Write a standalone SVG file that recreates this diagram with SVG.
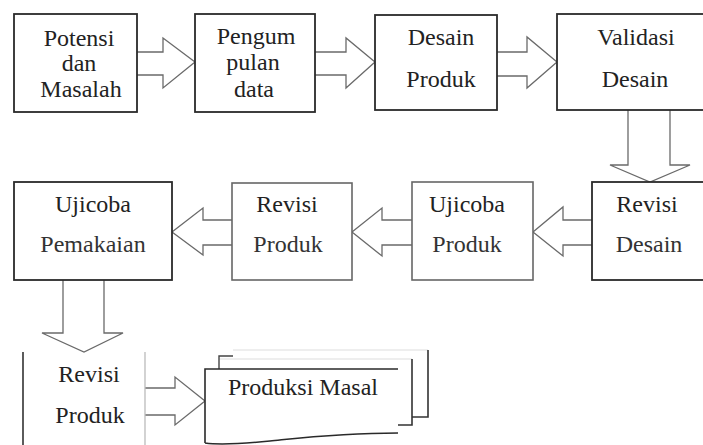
<svg xmlns="http://www.w3.org/2000/svg" width="703" height="445" viewBox="0 0 703 445">
  <defs>
    <!-- shared shapes reused across the chart -->
    <path id="pageEdge" d="M0,0 V0"/>
  </defs>
  <rect width="703" height="445" fill="#fff"/>

  <!-- block arrows -->
  <g id="connectors" fill="#fff" stroke="#6a6a6a" stroke-width="1.3">
    <path d="M137,52 H163 V38 L195,62 L163,88 V75 H137"/>
    <path d="M315,52 H346 V38 L375,62 L346,88 V75 H315"/>
    <path d="M497,52 H527 V37 L557,62 L527,88 V76 H497"/>
    <path d="M628,110 V165 H610 L650,182 L690,165 H670 V110"/>
    <path d="M592,220 H563 V207 L533,232 L563,256 V245 H592"/>
    <path d="M412,220 H382 V208 L352,232 L382,256 V245 H412"/>
    <path d="M232,220 H203 V208 L172,232 L203,255 V245 H232"/>
    <path d="M63,280 V333 H42 L84,352 L123,333 H104 V280"/>
    <path d="M145,388 H175 V377 L205,401 L175,425 V415 H145"/>
  </g>

  <g id="potensi">
    <rect x="14" y="14" width="123" height="98" fill="#fff" stroke="#2a2a2a" stroke-width="1.8"/>
    <text x="79" y="46" font-family="Liberation Serif" font-size="24" fill="#222" text-anchor="middle">Potensi</text>
    <text x="79" y="71" font-family="Liberation Serif" font-size="24" fill="#222" text-anchor="middle">dan</text>
    <text x="81" y="97" font-family="Liberation Serif" font-size="24" fill="#222" text-anchor="middle">Masalah</text>
  </g>

  <g id="pengumpulan">
    <rect x="195" y="14" width="120" height="98" fill="#fff" stroke="#2a2a2a" stroke-width="1.8"/>
    <text x="256" y="44" font-family="Liberation Serif" font-size="24" fill="#222" text-anchor="middle">Pengum</text>
    <text x="253" y="70" font-family="Liberation Serif" font-size="24" fill="#222" text-anchor="middle">pulan</text>
    <text x="254" y="97" font-family="Liberation Serif" font-size="24" fill="#222" text-anchor="middle">data</text>
  </g>

  <g id="desain-produk">
    <rect x="375" y="15" width="122" height="95" fill="#fff" stroke="#2a2a2a" stroke-width="1.8"/>
    <text x="441" y="45" font-family="Liberation Serif" font-size="24" fill="#222" text-anchor="middle">Desain</text>
    <text x="441" y="87" font-family="Liberation Serif" font-size="24" fill="#222" text-anchor="middle">Produk</text>
  </g>

  <g id="validasi-desain">
    <rect x="557" y="14" width="158" height="96" fill="#fff" stroke="#2a2a2a" stroke-width="1.8"/>
    <text x="636" y="45" font-family="Liberation Serif" font-size="24" fill="#222" text-anchor="middle">Validasi</text>
    <text x="635" y="87" font-family="Liberation Serif" font-size="24" fill="#222" text-anchor="middle">Desain</text>
  </g>

  <g id="revisi-desain">
    <rect x="592" y="182" width="120" height="98" fill="#fff" stroke="#2a2a2a" stroke-width="1.8"/>
    <text x="647" y="212" font-family="Liberation Serif" font-size="24" fill="#222" text-anchor="middle">Revisi</text>
    <text x="649" y="252" font-family="Liberation Serif" font-size="24" fill="#333" text-anchor="middle">Desain</text>
  </g>

  <g id="ujicoba-produk">
    <rect x="412" y="182" width="121" height="98" fill="#fff" stroke="#666" stroke-width="1.6"/>
    <text x="467" y="212" font-family="Liberation Serif" font-size="24" fill="#222" text-anchor="middle">Ujicoba</text>
    <text x="467" y="252" font-family="Liberation Serif" font-size="24" fill="#333" text-anchor="middle">Produk</text>
  </g>

  <g id="revisi-produk">
    <rect x="232" y="183" width="120" height="97" fill="#fff" stroke="#666" stroke-width="1.6"/>
    <text x="287" y="212" font-family="Liberation Serif" font-size="24" fill="#222" text-anchor="middle">Revisi</text>
    <text x="288" y="252" font-family="Liberation Serif" font-size="24" fill="#333" text-anchor="middle">Produk</text>
  </g>

  <g id="ujicoba-pemakaian">
    <rect x="14" y="182" width="158" height="98" fill="#fff" stroke="#2a2a2a" stroke-width="1.8"/>
    <text x="93" y="212" font-family="Liberation Serif" font-size="24" fill="#222" text-anchor="middle">Ujicoba</text>
    <text x="93" y="252" font-family="Liberation Serif" font-size="24" fill="#333" text-anchor="middle">Pemakaian</text>
  </g>

  <g id="revisi-produk-2">
    <path d="M23,352 V450" fill="none" stroke="#333" stroke-width="1.6"/>
    <path d="M145,352 V450" fill="none" stroke="#bbb" stroke-width="1.3"/>
    <text x="89" y="382" font-family="Liberation Serif" font-size="24" fill="#222" text-anchor="middle">Revisi</text>
    <text x="90" y="423" font-family="Liberation Serif" font-size="24" fill="#222" text-anchor="middle">Produk</text>
  </g>

  <g id="produksi-masal">
    <!-- stacked pages, back to front -->
    <path d="M233,350 H428 M219,359 H412" fill="none" stroke="#ddd" stroke-width="1.2"/>
    <path d="M428,350 V417 H412 M412,359 V425 H398" fill="none" stroke="#333" stroke-width="1.6"/>
    <path d="M219,369 V356 H233" fill="none" stroke="#444" stroke-width="1.4"/>
    <path d="M205,445 V369 H398 V433 C340,433 300,438 270,441 C240,444 220,445 205,443 Z" fill="#fff" stroke="none"/>
    <path d="M205,443 V369 H398 M398,433 C340,433 300,438 270,441 C240,444 220,445 205,443" fill="none" stroke="#2a2a2a" stroke-width="1.6"/>
    <text x="303" y="395" font-family="Liberation Serif" font-size="24" fill="#222" text-anchor="middle">Produksi Masal</text>
  </g>
</svg>
